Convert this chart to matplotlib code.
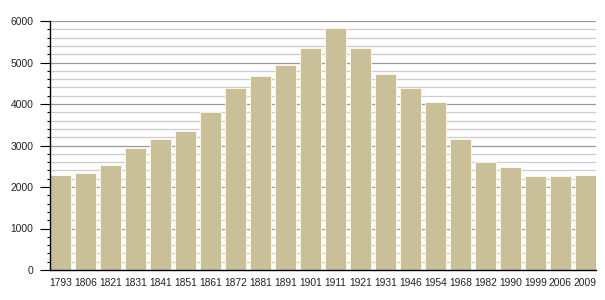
import matplotlib.pyplot as plt
from matplotlib.ticker import MultipleLocator

years = ["1793", "1806", "1821", "1831", "1841", "1851", "1861", "1872", "1881", "1891", "1901",
         "1911", "1921", "1931", "1946", "1954", "1968", "1982", "1990", "1999", "2006", "2009"]
population = [2290, 2337, 2530, 2940, 3157, 3350, 3800, 4393, 4675, 4940, 5350,
              5832, 5350, 4723, 4379, 4048, 3157, 2595, 2482, 2265, 2265, 2290]

plt.rcParams['font.family'] = ['Liberation Sans', 'DejaVu Sans']

fig = plt.figure(figsize=(6.05, 3.0), dpi=100)
ax = fig.add_axes([0.0826, 0.1, 0.9024, 0.83])

x = range(len(years))
width = 0.84
ax.bar(x, population, width=width, color='#C9BF98', edgecolor='#FFFBE3', linewidth=0.6, zorder=3)

ax.set_xlim(-width / 2, len(years) - 1 + width / 2)
ax.set_ylim(0, 6000)
ax.set_xticks(list(x))
ax.set_xticklabels(years, fontsize=7.4, color='#222222')
ax.yaxis.set_major_locator(MultipleLocator(1000))
ax.yaxis.set_minor_locator(MultipleLocator(200))
ax.tick_params(axis='x', length=0, pad=6)
ax.tick_params(axis='y', which='major', length=7, width=0.8, labelsize=7.4, labelcolor='#222222', pad=5)
ax.tick_params(axis='y', which='minor', length=2.5, width=0.8)

ax.grid(axis='y', which='major', color='#999999', linewidth=0.9, zorder=0)
ax.grid(axis='y', which='minor', color='#cccccc', linewidth=0.9, zorder=0)
ax.set_axisbelow(True)

for side in ['top', 'right']:
    ax.spines[side].set_visible(False)
ax.spines['left'].set_linewidth(1)
ax.spines['bottom'].set_linewidth(1)
ax.spines['left'].set_zorder(4)
ax.spines['bottom'].set_zorder(4)

fig.savefig("out.png", dpi=100)
